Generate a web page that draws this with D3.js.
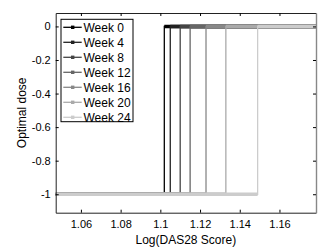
<!DOCTYPE html>
<html>
<head>
    <script src="https://d3js.org/d3.v7.min.js"></script>
    <style>
        body { margin: 0; background: #fff; }
        text { font-family: "Liberation Sans", Arial, sans-serif; }
    </style>
</head>
<body>
    <div id="chart"></div>
    <script>
        // data
        let weeks = ["Week 0", "Week 4", "Week 8", "Week 12", "Week 16", "Week 20", "Week 24"];
        let switchPoints = [1.102, 1.105, 1.110, 1.115, 1.123, 1.133, 1.149];
        let doseLow = -1;
        let doseHigh = 0;
        let xTicks = [1.06, 1.08, 1.10, 1.12, 1.14, 1.16];
        let yTicks = [0, -0.2, -0.4, -0.6, -0.8, -1];

        let greys = ["#000000", "#222222", "#444444", "#666666", "#888888", "#aaaaaa", "#cccccc"];

        let width = 332, height = 252;
        let plotLeft = 55.7, plotRight = 316, plotTop = 13, plotBottom = 212.7;

        let svg = d3.select("#chart").append("svg")
            .attr("width", width)
            .attr("height", height);

        let x = d3.scaleLinear()
            .domain([1.0473, 1.1784])
            .range([plotLeft, plotRight]);

        let y = d3.scaleLinear()
            .domain([-1.11, 0.08])
            .range([plotBottom, plotTop]);

        svg.append("clipPath").attr("id", "plot")
            .append("rect")
            .attr("x", plotLeft).attr("y", plotTop)
            .attr("width", plotRight - plotLeft).attr("height", plotBottom - plotTop);

        let lines = svg.append("g").attr("clip-path", "url(#plot)");
        let [x0, x1] = x.domain();

        let line = d3.line()
            .x(d => x(d[0]))
            .y(d => y(d[1]));

        let step = d3.line()
            .x(d => x(d[0]))
            .y(d => y(d[1]))
            .curve(d3.curveStepAfter);

        weeks.forEach((w, i) => {
            let g = lines.append("g");
            let s = switchPoints[i];
            // thin step line
            g.append("path")
                .attr("fill", "none")
                .attr("stroke", greys[i])
                .attr("stroke-width", 1.3)
                .attr("d", step([[x0, doseLow], [s, doseHigh], [x1, doseHigh]]));
            // thick runs where the markers sit
            g.append("path")
                .attr("fill", "none")
                .attr("stroke", greys[i])
                .attr("stroke-width", 3.6)
                .attr("d", line([[x0, doseLow], [s, doseLow]]) + line([[s, doseHigh], [x1, doseHigh]]));
        });

        // axes, MATLAB style ticks pointing inward
        let fmt = d => String(+d.toFixed(2));

        svg.append("g")
            .attr("transform", `translate(0,${plotBottom})`)
            .call(d3.axisBottom(x).tickValues(xTicks).tickSizeInner(-3).tickSizeOuter(0).tickPadding(8).tickFormat(fmt));

        svg.append("g")
            .attr("transform", `translate(0,${plotTop})`)
            .call(d3.axisTop(x).tickValues(xTicks).tickSizeInner(-3).tickSizeOuter(0).tickFormat(""));

        svg.append("g")
            .attr("transform", `translate(${plotLeft},0)`)
            .call(d3.axisLeft(y).tickValues(yTicks).tickSizeInner(-3).tickSizeOuter(0).tickPadding(5).tickFormat(fmt));

        svg.append("g")
            .attr("class", "right-axis")
            .attr("transform", `translate(${plotRight},0)`)
            .call(d3.axisRight(y).tickValues(yTicks).tickSizeInner(-3).tickSizeOuter(0).tickFormat(""));

        svg.selectAll(".domain").attr("stroke", "#222");
        svg.select(".right-axis .domain").attr("stroke", "#888").attr("stroke-width", 1.4);
        svg.selectAll(".tick text").attr("font-size", 11).attr("fill", "#000")
            .attr("font-family", "'Liberation Sans', Arial, sans-serif");

        svg.append("text")
            .attr("x", (plotLeft + plotRight) / 2)
            .attr("y", 244)
            .attr("text-anchor", "middle")
            .attr("font-size", 12)
            .text("Log(DAS28 Score)");

        svg.append("text")
            .attr("transform", `translate(26,${(plotTop + plotBottom) / 2}) rotate(-90)`)
            .attr("text-anchor", "middle")
            .attr("font-size", 12)
            .text("Optimal dose");

        // legend
        let legend = svg.append("g").attr("transform", "translate(61,19.3)");
        legend.append("rect")
            .attr("width", 72).attr("height", 102.4)
            .attr("fill", "#fff").attr("stroke", "#000").attr("stroke-width", 1);

        let rows = legend.selectAll("g.row")
            .data(weeks)
            .join("g")
            .attr("class", "row")
            .attr("transform", (d, i) => `translate(0,${8 + i * 15})`);

        rows.append("line")
            .attr("x1", 2.3).attr("x2", 20.7)
            .attr("stroke", (d, i) => greys[i]).attr("stroke-width", 1.3);
        rows.append("rect")
            .attr("x", 10).attr("y", -1.7).attr("width", 3.4).attr("height", 3.4)
            .attr("fill", (d, i) => greys[i]);
        rows.append("text")
            .attr("x", 22.5).attr("dy", "0.36em")
            .attr("font-size", 12)
            .text(d => d);
    </script>
</body>
</html>
